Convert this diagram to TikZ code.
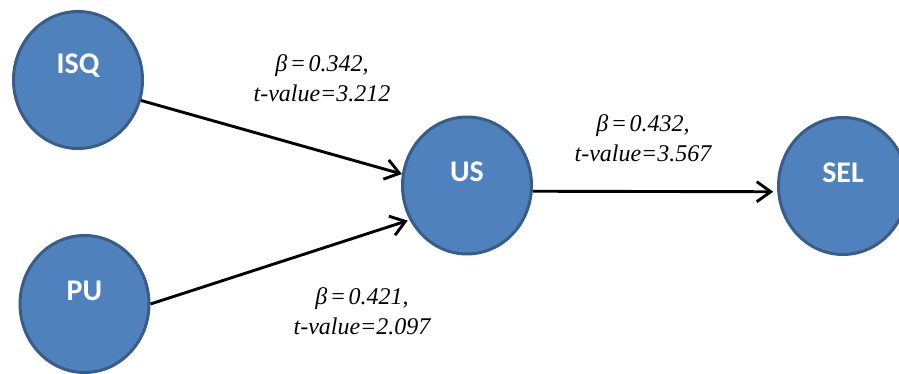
\documentclass[tikz,border=0pt]{standalone}
\usepackage{fontspec}
\setmainfont{Liberation Serif}
\newfontfamily\nodefont{Carlito}
\usetikzlibrary{shapes.geometric,arrows.meta}
\definecolor{cfill}{HTML}{4F81BD}
\definecolor{cborder}{HTML}{385D8A}
\newcommand{\eqsp}{\hspace{2.5pt}}
\tikzset{
  var/.style={ellipse, draw=cborder, fill=cfill, line width=3pt, minimum width=129pt, minimum height=137pt, inner sep=0pt},
  vartext/.style={text=white, font=\nodefont\bfseries\fontsize{30}{34}\selectfont, inner sep=0pt},
  conn/.style={line width=2.9pt, -{Straight Barb[length=14pt,width=20pt,line width=2.9pt]}},
  coef/.style={align=center, font=\itshape\fontsize{24}{30}\selectfont, inner sep=0pt}
}
\begin{document}
\begin{tikzpicture}[x=1pt,y=1pt]
\useasboundingbox (0,0) rectangle (899,374);
\node[var] (isq) at (78,294) {};
\node[var] (pu) at (84.5,70) {};
\node[var] (us) at (467,188.5) {};
\node[var] (sel) at (843,188) {};
\node[vartext] (isqt) at ([yshift=14pt]isq.center) {ISQ};
\node[vartext] (put) at ([yshift=13pt]pu.center) {PU};
\node[vartext] (ust) at ([yshift=13.5pt]us.center) {US};
\node[vartext] (selt) at ([yshift=13.5pt]sel.center) {SEL};
\draw[conn] (isq.-18) -- (us.170);
\draw[conn, shorten >=2pt] (pu.0) -- (us.211);
\draw[conn, shorten >=4pt] (us.-5) -- (sel.185);
\node[coef] (l1) at (322,296) {β\eqsp=\eqsp0.342,\\t-value=3.212};
\node[coef] (l2) at (643,236) {β\eqsp=\eqsp0.432,\\t-value=3.567};
\node[coef] (l3) at (362,63) {β\eqsp=\eqsp0.421,\\t-value=2.097};
\end{tikzpicture}
\end{document}
